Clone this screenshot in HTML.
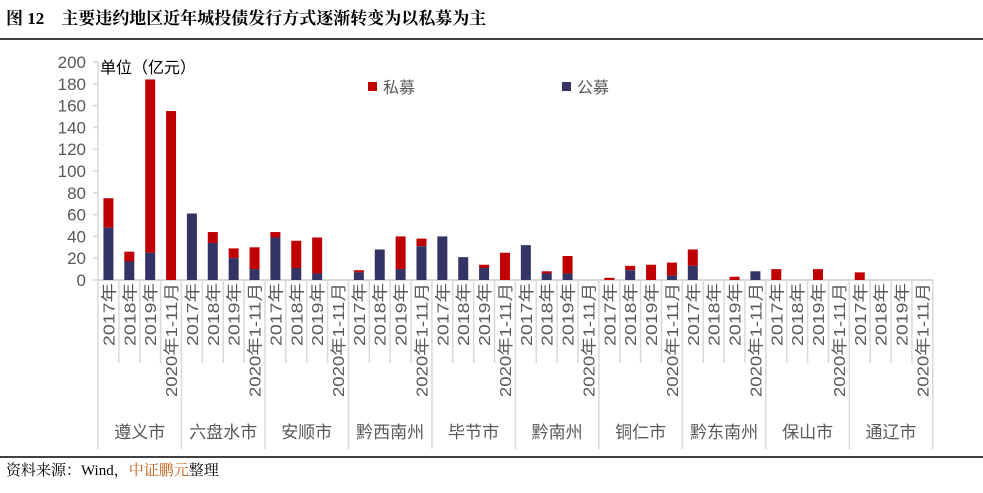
<!DOCTYPE html><html><head><meta charset="utf-8"><style>body{margin:0;background:#fff}svg{display:block}text{font-family:"Liberation Sans","Noto Sans CJK SC",sans-serif}</style></head><body>
<svg width="983" height="493" xmlns="http://www.w3.org/2000/svg">
<text x="6" y="24" font-size="17" font-weight="bold" style="font-family:'Liberation Serif','Noto Serif CJK SC',serif">图 12　主要违约地区近年城投债发行方式逐渐转变为以私募为主</text>
<line x1="0" y1="39" x2="983" y2="39" stroke="#000" stroke-width="1.5"/>
<line x1="0" y1="457" x2="983" y2="457" stroke="#000" stroke-width="1.5"/>
<text x="6" y="475" font-size="15" style="font-family:'Liberation Serif','Noto Serif CJK SC',serif">资料来源：Wind，<tspan fill="#c55a11">中证鹏元</tspan>整理</text>
</svg>
<script>
const s=document.querySelector('svg'),ns='http://www.w3.org/2000/svg';
function el(t,a,tx){const e=document.createElementNS(ns,t);for(const k in a)e.setAttribute(k,a[k]);if(tx!==undefined)e.textContent=tx;s.appendChild(e);return e;}
const x0=98,w=20.87,y0=280,k=1.09;
for(let v=0;v<=200;v+=20){const y=y0-v*k;el('text',{x:86,y:y+6,'font-size':17,fill:'#595959','text-anchor':'end'},String(v));el('line',{x1:93,x2:98,y1:y,y2:y,stroke:'#d9d9d9','stroke-width':1.5});}
el('line',{x1:98,x2:98,y1:62,y2:449,stroke:'#d9d9d9','stroke-width':1.5});
el('line',{x1:98,x2:933,y1:280,y2:280,stroke:'#d9d9d9','stroke-width':2});
const d=[[75,48],[26,17],[184,25],[155,0],[61,61],[44,34],[29,20],[30,10],[44,39],[36,11],[39,6],[0,0],[9,7],[28,28],[40,10],[38,31],[40,40],[21,21],[14,11],[25,0],[32,32],[8,6],[22,6],[0,0],[2,0],[13,9],[14,0],[16,4],[28,13],[0,0],[3,0],[8,8],[10,0],[0,0],[10,0],[0,0],[7,0],[0,0],[0,0],[0,0]];
const yl=['2017年','2018年','2019年','2020年1-11月'];
const cities=['遵义市','六盘水市','安顺市','黔西南州','毕节市','黔南州','铜仁市','黔东南州','保山市','通辽市'];
d.forEach((b,i)=>{const cx=x0+w*(i+.5);
if(b[0]>0)el('rect',{x:cx-5,y:y0-b[0]*k,width:10,height:(b[0]-b[1])*k,fill:'#c00000'});
if(b[1]>0)el('rect',{x:cx-5,y:y0-b[1]*k,width:10,height:b[1]*k,fill:'#333366'});
el('text',{x:0,y:0,'font-size':16,fill:'#595959','text-anchor':'end',textLength:(i%4==3?114:63),lengthAdjust:'spacingAndGlyphs',transform:`translate(${cx+6},${283}) rotate(-90)`},yl[i%4]);
const xe=x0+w*(i+1);if((i+1)%4==0)el('line',{x1:xe,x2:xe,y1:280,y2:449,stroke:'#d9d9d9','stroke-width':1.5});else el('line',{x1:xe,x2:xe,y1:280,y2:363,stroke:'#d9d9d9','stroke-width':1.5});
});
cities.forEach((c,j)=>el('text',{x:x0+w*(j*4+2),y:438,'font-size':17,fill:'#595959','text-anchor':'middle'},c));
el('text',{x:100,y:73,'font-size':16,fill:'#000'},'单位（亿元）');
el('rect',{x:368,y:82,width:9,height:9,fill:'#c00000'});el('text',{x:383,y:93,'font-size':16,fill:'#595959'},'私募');
el('rect',{x:562,y:82,width:9,height:9,fill:'#333366'});el('text',{x:577,y:93,'font-size':16,fill:'#595959'},'公募');
</script></body></html>
